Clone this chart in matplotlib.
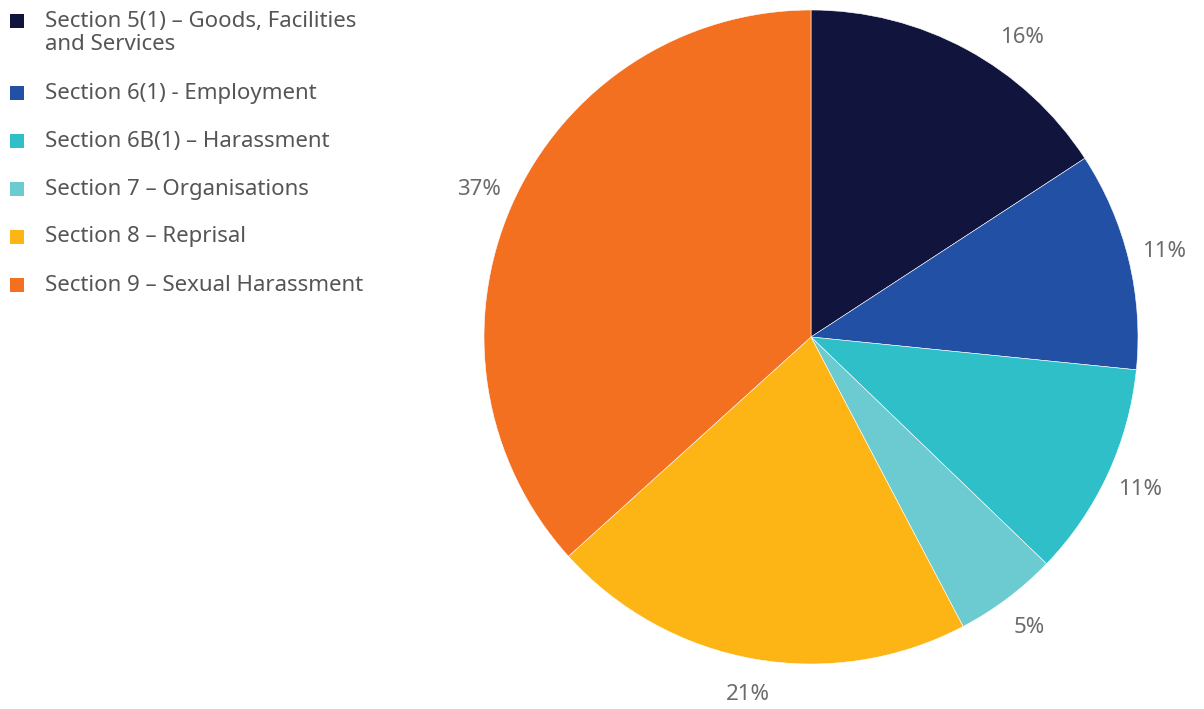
import matplotlib.pyplot as plt
from matplotlib.patches import Rectangle

labels = [
    "Section 5(1) \u2013 Goods, Facilities\nand Services",
    "Section 6(1) - Employment",
    "Section 6B(1) \u2013 Harassment",
    "Section 7 \u2013 Organisations",
    "Section 8 \u2013 Reprisal",
    "Section 9 \u2013 Sexual Harassment",
]
shares = [15.8, 10.8, 10.6, 5.1, 21.0, 36.7]
colors = ["#11143d", "#2150a4", "#2fbfc8", "#6ccbd0", "#fdb515", "#f37021"]

plt.rcParams["font.family"] = ["Noto Sans", "DejaVu Sans"]

fig = plt.figure(figsize=(12.04, 7.09), dpi=100)
ax = fig.add_axes([484 / 1204, 45 / 709, 654 / 1204, 654 / 709])

wedges, texts, autotexts = ax.pie(
    shares, colors=colors, startangle=90, counterclock=False,
    autopct="%.0f%%", pctdistance=1.11,
    wedgeprops=dict(edgecolor="white", linewidth=0.4),
    textprops=dict(color="#6b6b6b", fontsize=16),
)
ax.set_xlim(-1, 1)
ax.set_ylim(-1, 1)
# first label sits a little further round, like the original
autotexts[0].set_position((0.645, 0.917))

# legend drawn by hand so the two-line entry lines up like the original
y = 21
for lab, col in zip(labels, colors):
    fig.patches.append(Rectangle((10 / 1204, 1 - (y + 7) / 709), 14 / 1204, 14 / 709,
                                 transform=fig.transFigure, facecolor=col,
                                 edgecolor="none"))
    if "\n" in lab:
        fig.text(45 / 1204, 1 - (y - 10) / 709, lab, fontsize=16, color="#555555",
                 va="top", ha="left", linespacing=1.15)
    else:
        fig.text(45 / 1204, 1 - y / 709, lab, fontsize=16, color="#555555",
                 va="center", ha="left")
    y += 48 + 24 * lab.count("\n")

fig.savefig("out.png", dpi=100)
